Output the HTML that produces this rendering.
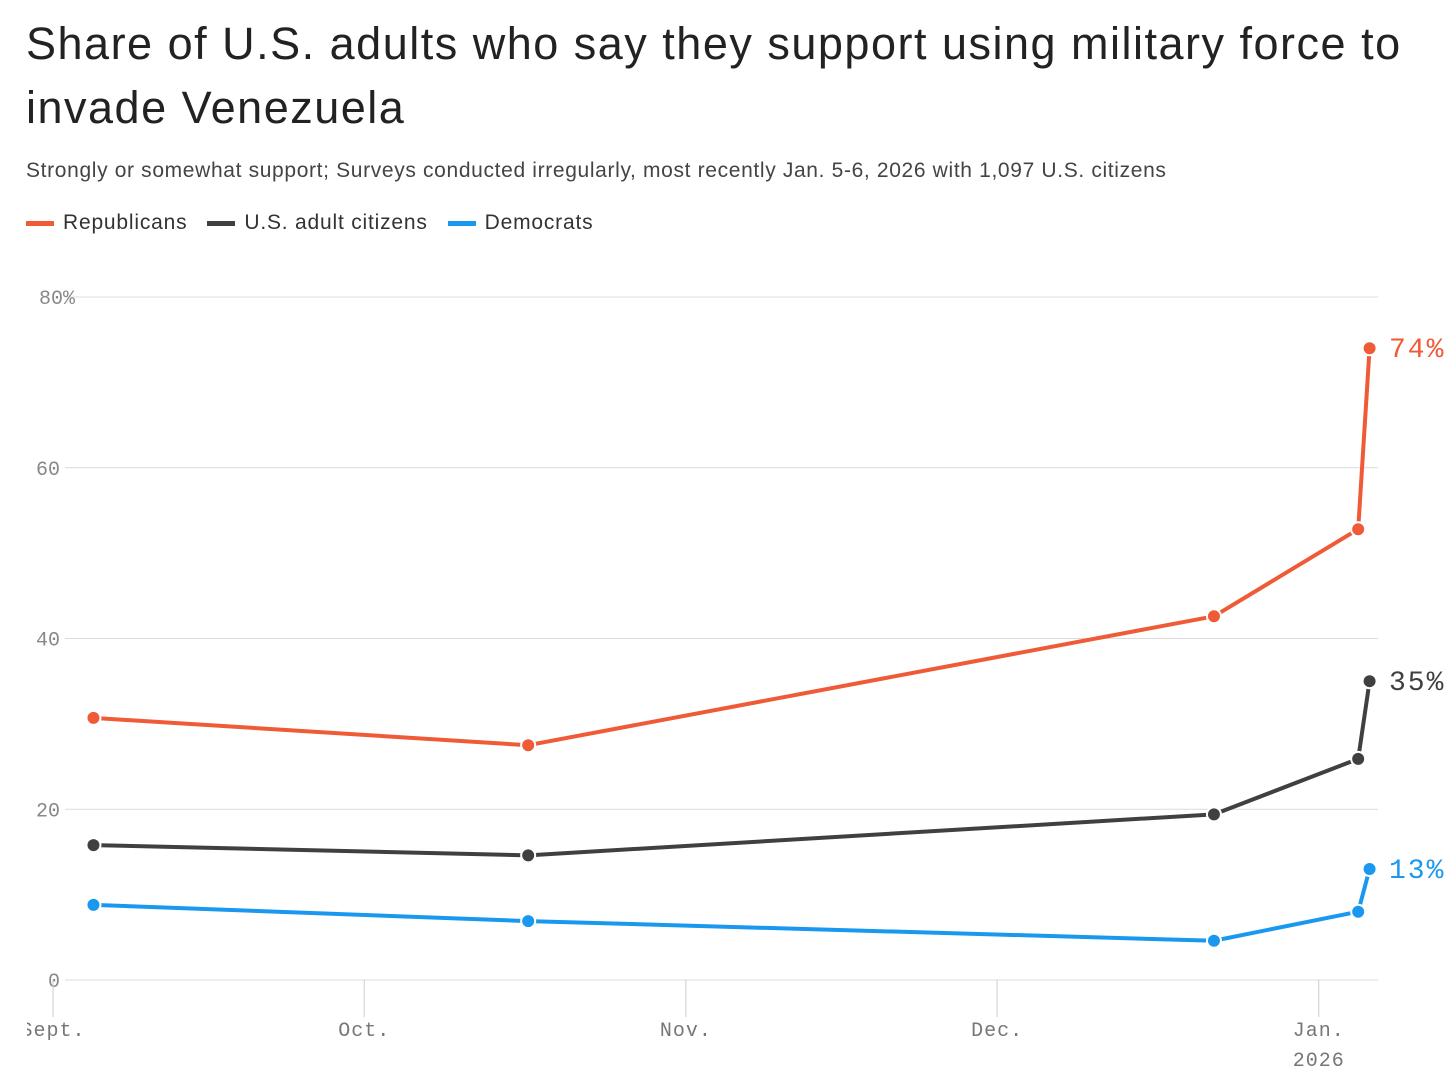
<!DOCTYPE html>
<html><head><meta charset="utf-8">
<style>
body{margin:0;background:#fff;width:1456px;height:1087px;overflow:hidden;font-family:"Liberation Sans",sans-serif;}
#title{position:absolute;left:26px;top:12px;width:1420px;font-size:45px;line-height:64px;color:#222;letter-spacing:1.5px;margin:0;font-weight:normal;}
#sub{position:absolute;left:26px;top:159px;font-size:21px;letter-spacing:0.65px;color:#444;white-space:nowrap;}
#legend{position:absolute;left:26px;top:211px;font-size:21px;letter-spacing:0.8px;color:#333;display:flex;gap:20px;}
.li{display:flex;align-items:center;}
.sw{width:28px;height:5px;margin-right:9px;}
svg{position:absolute;left:0;top:0;}
</style></head><body>
<h1 id="title">Share of U.S. adults who say they support using military force to invade Venezuela</h1>
<div id="sub">Strongly or somewhat support; Surveys conducted irregularly, most recently Jan. 5-6, 2026 with 1,097 U.S. citizens</div>
<div id="legend">
<div class="li"><span class="sw" style="background:#ef5a37"></span>Republicans</div>
<div class="li"><span class="sw" style="background:#404040"></span>U.S. adult citizens</div>
<div class="li"><span class="sw" style="background:#1a98f0"></span>Democrats</div>
</div>
<svg id="chart" width="1456" height="1087"></svg>
<script>
const days=[3.9,45.8,111.9,125.8,126.9];  // days since Sept 1
const rep=[30.7,27.5,42.6,52.8,74];
const usa=[15.8,14.6,19.4,25.9,35];
const dem=[8.8,6.9,4.6,8,13];
const yTicks=[0,20,40,60,80];
const yTickLabels=['0','20','40','60','80%'];
const monthDays=[0,30,61,91,122];
const monthLabels=['Sept.','Oct.','Nov.','Dec.','Jan.'];
const NS='http://www.w3.org/2000/svg';
const svg=document.getElementById('chart');
const x=d=>53+d*10.375;
const y=v=>980-v*8.5375;
function mk(t,a,p){const e=document.createElementNS(NS,t);for(const k in a)e.setAttribute(k,a[k]);(p||svg).appendChild(e);return e;}
const defs=mk('defs',{});const cp=mk('clipPath',{id:'cl'},defs);mk('rect',{x:27,y:0,width:1430,height:1087},cp);
yTicks.forEach((v,i)=>{
 const g=mk('line',{x1:65,x2:1378,y1:y(v),y2:y(v),stroke:'#dcdcdc','stroke-width':1});
 
 
 const t=mk('text',{x:i==4?75:60,y:y(v)+7,'text-anchor':'end','font-family':'Liberation Mono, monospace','font-size':20,fill:'#888'});
 t.textContent=yTickLabels[i];
 
 
});
monthDays.forEach((d,i)=>{
 const l=mk('line',{x1:x(d),x2:x(d),y1:980,y2:1017,stroke:'#ccc','stroke-width':1});
 
 
 const t=mk('text',{x:x(d),y:1036,'text-anchor':'middle','font-family':'Liberation Mono, monospace','font-size':20,'letter-spacing':1,fill:'#777','clip-path':'url(#cl)'});
 t.textContent=monthLabels[i];
 
 
});
const yr=mk('text',{x:x(122),y:1066,'text-anchor':'middle','font-family':'Liberation Mono, monospace','font-size':20,'letter-spacing':1,fill:'#777'});
yr.textContent='2026';


const series=[['republicans',rep,'#ef5a37'],['us-adults',usa,'#404040'],['democrats',dem,'#1a98f0']];
series.forEach(([n,vals,c])=>{
 const p=mk('polyline',{points:vals.map((v,i)=>x(days[i])+','+y(v)).join(' '),fill:'none',stroke:c,'stroke-width':4,'stroke-linejoin':'round'});
 
 
 vals.forEach((v,i)=>{
  const d=mk('circle',{cx:x(days[i]),cy:y(v),r:7,fill:c,stroke:'#fff','stroke-width':2});
  
  
 });
 const last=vals[vals.length-1];
 const t=mk('text',{x:1389,y:y(last)+9,'font-family':'Liberation Mono, monospace','font-size':28,'letter-spacing':2,fill:c});
 t.textContent=Math.round(last)+'%';
 
 
});
</script>
</body></html>
